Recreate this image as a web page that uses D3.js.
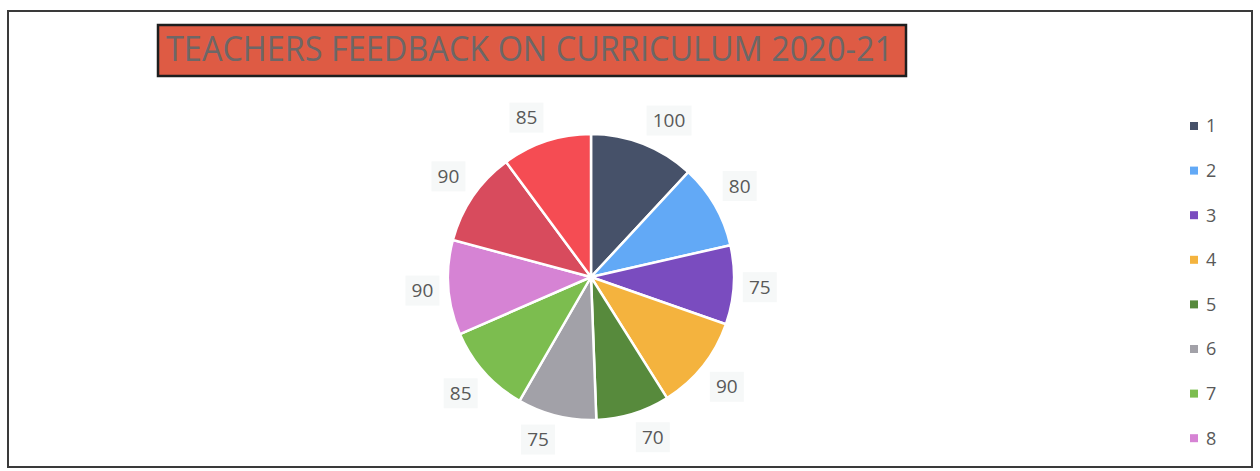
<!DOCTYPE html>
<html lang="en">
<head>
<meta charset="utf-8">
<title>Teachers Feedback on Curriculum 2020-21</title>
<script src="https://d3js.org/d3.v7.min.js"></script>
<style>
  body { margin: 0; background: #fff; }
  svg { display: block; }
</style>
</head>
<body>
<script>
// chart data
let categories = ["1", "2", "3", "4", "5", "6", "7", "8", "9", "10"]
let values = [100, 80, 75, 90, 70, 75, 85, 90, 90, 85]
let sliceColors = ["#465169", "#62a9f6", "#7a4cbf", "#f4b33e", "#578a3c",
                   "#a2a1a8", "#7cbd4f", "#d683d4", "#d84b5d", "#f54c53"]
let title = "TEACHERS FEEDBACK ON CURRICULUM 2020-21"

let width = 1260
let height = 471
let cx = 591, cy = 277, radius = 143
let frameBottom = 467

let svg = d3.select("body").append("svg")
    .attr("width", width)
    .attr("height", height)

// outer frame
svg.append("rect")
    .attr("x", 8).attr("y", 11)
    .attr("width", 1244).attr("height", frameBottom - 11)
    .attr("fill", "#fff")
    .attr("stroke", "#3a3a3a")
    .attr("stroke-width", 2)

// title box
svg.append("rect")
    .attr("x", 158).attr("y", 25)
    .attr("width", 748).attr("height", 51)
    .attr("fill", "#de5b44")
    .attr("stroke", "#1e1e1e")
    .attr("stroke-width", 2.5)

svg.append("text")
    .attr("x", 166).attr("y", 61)
    .attr("textLength", 727)
    .attr("lengthAdjust", "spacingAndGlyphs")
    .attr("font-family", "Open Sans, sans-serif")
    .attr("font-size", 34)
    .attr("fill", "#6d6767")
    .text(title)

// pie
let pie = d3.pie().sort(null).value(d => d.value)
let arcs = pie(categories.map((c, i) => ({ cat: c, value: values[i], color: sliceColors[i] })))
let arc = d3.arc().innerRadius(0).outerRadius(radius)
let anchorArc = d3.arc().innerRadius(152).outerRadius(152)

let g = svg.append("g").attr("transform", `translate(${cx},${cy})`)

g.selectAll("path.slice")
    .data(arcs)
    .enter()
    .append("path")
    .attr("class", "slice")
    .attr("d", arc)
    .attr("fill", d => d.data.color)
    .attr("stroke", "#fff")
    .attr("stroke-width", 2.5)

// labels sit outside the pie, their box touching an anchor point on a ring
let boxW = d => String(d.data.value).length * 11 + 12
let boxH = 30
let labelPos = d => {
    let [ax, ay] = anchorArc.centroid(d)
    let a = (d.startAngle + d.endAngle) / 2
    let s = Math.sin(a), c = Math.cos(a)
    let ox = Math.sign(s) * boxW(d) / 2 * Math.min(1, Math.abs(s) * 4)
    let oy = -Math.sign(c) * boxH / 2 * Math.min(1, Math.abs(c) * 2)
    return [ax + ox, ay + oy]
}

let labels = g.selectAll("g.lbl")
    .data(arcs)
    .enter()
    .append("g")
    .attr("class", "lbl")
    .attr("transform", d => `translate(${labelPos(d)})`)

labels.append("rect")
    .attr("x", d => -boxW(d) / 2)
    .attr("y", -boxH / 2)
    .attr("width", boxW)
    .attr("height", boxH)
    .attr("fill", "#f6f8f8")

labels.append("text")
    .attr("text-anchor", "middle")
    .attr("dy", "0.35em")
    .attr("font-family", "Open Sans, sans-serif")
    .attr("font-size", 19)
    .attr("fill", "#595959")
    .text(d => d.data.value)

// legend (entries past the frame are cut off, as in the original)
let legendY = d3.scalePoint()
    .domain(categories)
    .range([126, 126 + 44.6 * (categories.length - 1)])

let legend = svg.selectAll("g.legend")
    .data(categories.filter(d => legendY(d) + 12 < frameBottom))
    .enter()
    .append("g")
    .attr("class", "legend")
    .attr("transform", d => `translate(1190,${legendY(d)})`)

legend.append("rect")
    .attr("x", 0).attr("y", -4)
    .attr("width", 8).attr("height", 8)
    .attr("fill", d => sliceColors[categories.indexOf(d)])

legend.append("text")
    .attr("x", 16)
    .attr("dy", "0.36em")
    .attr("font-family", "Open Sans, sans-serif")
    .attr("font-size", 18)
    .attr("fill", "#595959")
    .text(d => d)
</script>
</body>
</html>
